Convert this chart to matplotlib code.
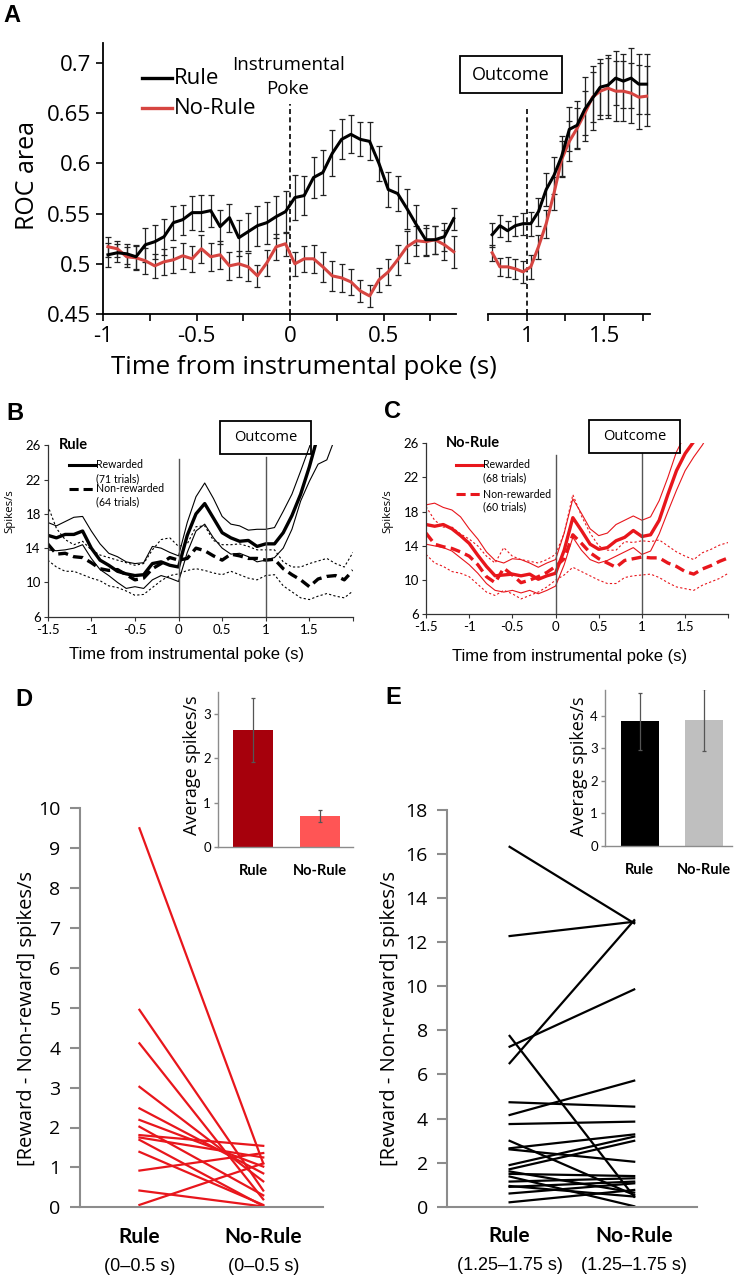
import numpy as np
import matplotlib
matplotlib.use("Agg")
import matplotlib.pyplot as plt
from matplotlib.patches import Rectangle
from matplotlib.lines import Line2D
from matplotlib.transforms import blended_transform_factory

plt.rcParams['font.family'] = ['Open Sans', 'DejaVu Sans']
plt.rcParams['axes.unicode_minus'] = False

nan = np.nan

# ---------------- Panel A: ROC area ----------------
t_a_left = np.round(np.arange(-0.975, 0.9, 0.05), 3)
rule_a = [0.509, 0.511, 0.510, 0.507, 0.519, 0.522, 0.527, 0.541, 0.544, 0.551,
          0.551, 0.553, 0.537, 0.546, 0.526, 0.532, 0.538, 0.541, 0.547, 0.552,
          0.566, 0.568, 0.586, 0.591, 0.610, 0.624, 0.629, 0.624, 0.622, 0.600,
          0.574, 0.570, 0.555, 0.539, 0.524, 0.524, 0.527, 0.545]
rule_a_err = [0.012, 0.009, 0.010, 0.012, 0.017, 0.017, 0.018, 0.017, 0.015, 0.017,
              0.018, 0.016, 0.017, 0.014, 0.018, 0.019, 0.020, 0.021, 0.021, 0.021,
              0.022, 0.019, 0.020, 0.022, 0.023, 0.020, 0.019, 0.017, 0.019, 0.017,
              0.017, 0.017, 0.020, 0.020, 0.015, 0.014, 0.014, 0.011]
norule_a = [0.517, 0.515, 0.507, 0.506, 0.503, 0.498, 0.502, 0.504, 0.508, 0.505,
            0.515, 0.507, 0.509, 0.498, 0.500, 0.497, 0.488, 0.501, 0.517, 0.520,
            0.500, 0.505, 0.505, 0.497, 0.488, 0.486, 0.482, 0.473, 0.468, 0.484,
            0.492, 0.504, 0.517, 0.523, 0.522, 0.524, 0.519, 0.512]
norule_a_err = [0.010, 0.008, 0.010, 0.012, 0.013, 0.012, 0.013, 0.013, 0.013, 0.013,
                0.014, 0.014, 0.014, 0.014, 0.013, 0.014, 0.011, 0.013, 0.013, 0.012,
                0.012, 0.013, 0.014, 0.015, 0.015, 0.014, 0.013, 0.011, 0.011, 0.012,
                0.013, 0.015, 0.016, 0.015, 0.014, 0.014, 0.015, 0.016]

t_a_right = np.round(np.arange(0.775, 1.8, 0.05), 3)
rule_a2 = [0.529, 0.538, 0.533, 0.538, 0.540, 0.540, 0.552, 0.574, 0.588, 0.607,
           0.634, 0.638, 0.654, 0.665, 0.676, 0.678, 0.685, 0.682, 0.685, 0.679, 0.679]
rule_a2_err = [0.012, 0.011, 0.010, 0.010, 0.011, 0.012, 0.014, 0.016, 0.018, 0.020,
               0.022, 0.024, 0.032, 0.032, 0.028, 0.030, 0.027, 0.027, 0.030, 0.030, 0.030]
norule_a2 = [0.511, 0.497, 0.497, 0.495, 0.492, 0.497, 0.517, 0.540, 0.570, 0.604,
             0.622, 0.635, 0.650, 0.666, 0.672, 0.675, 0.672, 0.672, 0.670, 0.666, 0.667]
norule_a2_err = [0.008, 0.009, 0.010, 0.010, 0.011, 0.012, 0.012, 0.014, 0.016, 0.018,
                 0.020, 0.020, 0.022, 0.025, 0.028, 0.030, 0.030, 0.030, 0.030, 0.032, 0.030]

# ---------------- Panels B, C: firing rate ----------------
t_bc = np.round(np.arange(-1.5, 2.05, 0.1), 2)
b_rw_mean = [15.5, 15.2, 15.6, 15.6, 16.0, 14.0, 12.6, 12.0, 11.3, 11.0,
             10.8, 10.9, 12.2, 12.4, 12.0, 11.8, 15.5, 18.0, 19.2, 17.5,
             15.8, 15.2, 14.8, 14.9, 14.2, 14.5, 14.5, 15.8, 17.8, 20.3,
             23.5, 27.2, nan, nan, nan, nan]
b_rw_hi = [17.0, 16.6, 17.1, 17.6, 17.7, 16.0, 14.5, 13.4, 13.0, 12.4,
           12.2, 12.3, 14.2, 14.0, 13.5, 13.1, 17.0, 20.0, 21.6, 19.8,
           17.7, 16.8, 16.6, 16.1, 16.2, 16.2, 16.4, 18.3, 20.3, 23.0,
           25.8, 29.0, nan, nan, nan, nan]
b_rw_lo = [13.8, 13.7, 13.8, 14.0, 14.4, 12.8, 11.5, 10.8, 10.0, 9.3,
           9.5, 9.3, 10.3, 10.8, 10.5, 10.1, 13.5, 16.0, 16.8, 15.2,
           14.0, 13.3, 13.4, 13.0, 12.4, 12.6, 12.9, 14.0, 16.2, 19.5,
           21.8, 23.8, 24.3, 27.0, nan, nan]
b_nr_mean = [14.5, 13.3, 13.4, 13.0, 12.9, 12.3, 11.6, 11.4, 11.5, 10.9,
             10.3, 10.5, 11.6, 12.2, 12.9, 12.6, 12.8, 14.0, 13.7, 13.1,
             12.6, 13.3, 13.1, 12.8, 12.8, 12.6, 12.7, 11.6, 10.9, 10.3,
             9.5, 10.4, 10.7, 10.8, 10.3, 11.4]
b_nr_hi = [19.0, 16.3, 15.0, 14.4, 14.8, 13.8, 13.2, 12.9, 12.6, 12.3,
           12.0, 12.2, 13.8, 15.0, 15.2, 14.2, 14.5, 16.5, 16.6, 14.9,
           14.4, 14.4, 14.5, 14.2, 13.8, 13.8, 13.8, 12.4, 11.8, 11.8,
           12.2, 12.5, 12.8, 12.2, 11.8, 13.5]
b_nr_lo = [12.6, 11.8, 11.3, 11.3, 10.9, 10.5, 10.2, 9.6, 9.4, 9.0,
           8.5, 8.6, 9.4, 10.2, 10.8, 11.0, 11.4, 11.6, 11.4, 11.1,
           10.9, 11.3, 10.9, 10.5, 10.3, 10.8, 10.9, 9.6, 8.9, 8.2,
           8.0, 8.4, 8.7, 8.4, 8.2, 9.0]

c_rw_mean = [16.5, 16.3, 16.5, 16.0, 15.2, 14.3, 12.9, 11.6, 10.5, 10.6,
             10.7, 10.5, 10.7, 10.1, 10.5, 10.8, 13.5, 17.3, 15.8, 14.2,
             13.6, 13.8, 14.6, 15.0, 15.8, 15.1, 15.3, 17.0, 20.0, 22.8,
             24.8, 26.2, nan, nan, nan, nan]
c_rw_hi = [18.8, 19.0, 18.5, 18.2, 17.4, 16.0, 14.8, 13.3, 12.3, 12.0,
           12.5, 12.4, 12.0, 11.5, 12.0, 12.4, 15.5, 19.5, 17.8, 16.0,
           15.2, 15.5, 16.5, 17.0, 17.5, 17.0, 17.4, 19.3, 22.0, 25.0,
           27.0, nan, nan, nan, nan, nan]
c_rw_lo = [14.2, 14.0, 13.8, 13.4, 12.6, 11.8, 10.8, 9.6, 8.8, 8.6,
           8.8, 8.5, 8.8, 8.4, 8.8, 9.3, 11.8, 15.0, 13.5, 12.4,
           12.0, 12.3, 12.8, 13.3, 13.8, 13.0, 13.4, 15.4, 18.0, 20.5,
           22.8, 24.4, 25.8, 27.5, nan, nan]
c_nr_mean = [15.5, 14.2, 13.9, 13.7, 13.3, 12.8, 11.8, 10.4, 9.7, 11.4,
             10.6, 9.7, 10.0, 10.4, 10.9, 11.6, 12.5, 15.3, 14.3, 13.2,
             12.5, 12.0, 11.5, 12.3, 12.5, 12.7, 12.6, 12.6, 12.0, 11.6,
             11.0, 10.7, 11.3, 11.7, 12.2, 12.6]
c_nr_hi = [18.6, 17.0, 16.2, 16.2, 15.4, 14.8, 14.0, 12.8, 12.0, 13.8,
           12.8, 12.4, 12.2, 12.0, 12.4, 13.0, 15.5, 20.0, 17.5, 15.5,
           14.0, 13.5, 13.5, 14.5, 14.4, 14.6, 14.5, 14.7, 14.0, 13.3,
           12.8, 12.4, 13.2, 13.6, 14.1, 14.4]
c_nr_lo = [13.0, 12.0, 11.6, 11.0, 10.8, 10.4, 9.5, 8.6, 8.2, 8.8,
           8.4, 7.8, 8.2, 8.6, 9.2, 10.0, 10.6, 11.5, 11.0, 10.5,
           10.0, 9.6, 9.6, 10.3, 10.5, 10.6, 10.7, 10.3, 9.7, 9.2,
           9.0, 8.8, 9.4, 9.8, 10.2, 10.8]

# ---------------- Panels D, E: paired differences ----------------
d_rule = [9.5, 4.95, 4.11, 3.02, 2.48, 2.19, 2.02, 1.81, 1.75, 1.69, 1.39, 0.92, 0.42, 0.06]
d_norule = [1.1, 0.42, 0.2, 0.65, 0.85, 1.02, 0.3, 1.54, 1.25, 0.03, 0.06, 1.36, 0.02, 1.1]
d_bar = [2.64, 0.71]
d_bar_err = [0.72, 0.14]

e_rule = [16.33, 12.28, 6.51, 7.26, 7.75, 4.74, 4.16, 3.75, 2.99, 2.65, 2.6,
          1.89, 1.7, 1.6, 1.49, 1.37, 1.14, 0.94, 0.9, 0.6, 0.2]
e_norule = [12.86, 12.93, 13.0, 9.86, 0.45, 4.54, 5.72, 3.86, 0.53, 3.28, 2.04,
            3.18, 2.99, 0.64, 1.39, 0.02, 1.29, 0.46, 1.14, 1.06, 0.76]
e_bar = [3.83, 3.88]
e_bar_err = [0.89, 0.96]

groups = ['Rule', 'No-Rule']

# ---------------- layout helpers (pixel coords of the 739x1280 canvas) ----------------
W, H = 739, 1280


def rect(x0, y0, x1, y1):
    return [x0 / W, 1 - y1 / H, (x1 - x0) / W, (y1 - y0) / H]


def fx(x):
    return x / W


def fy(y):
    return 1 - y / H


fig = plt.figure(figsize=(W / 100, H / 100), dpi=100)

RED_A = '#D64541'
RED = '#E8161C'
GRAY = '#8C8C8C'

# ===== A =====
axL = fig.add_axes(rect(103.3, 43, 456.5, 314))
axR = fig.add_axes(rect(488.3, 43, 650.4, 314))
for ax, t, r, re, n, ne in [(axL, t_a_left, rule_a, rule_a_err, norule_a, norule_a_err),
                            (axR, t_a_right, rule_a2, rule_a2_err, norule_a2, norule_a2_err)]:
    ax.errorbar(t, n, yerr=ne, fmt='none', ecolor='#222222', elinewidth=0.9,
                capsize=2.5, capthick=0.9, zorder=2)
    ax.errorbar(t, r, yerr=re, fmt='none', ecolor='#222222', elinewidth=0.9,
                capsize=2.5, capthick=0.9, zorder=2)
    ax.plot(t, n, color=RED_A, lw=2.2, zorder=3)
    ax.plot(t, r, color='black', lw=2.2, zorder=4)
    ax.set_ylim(0.45, 0.72)
    for s in ['top', 'right']:
        ax.spines[s].set_visible(False)
    ax.spines['bottom'].set_linewidth(1.3)
    ax.spines['left'].set_linewidth(1.3)
    ax.tick_params(direction='out', length=5, width=1.2, labelsize=16, pad=4)

axL.set_xlim(-1, 0.89)
axL.set_xticks([-1, -0.75, -0.5, -0.25, 0, 0.25, 0.5, 0.75])
axL.set_xticklabels(['-1', '', '-0.5', '', '0', '', '0.5', ''])
axL.set_yticks([0.45, 0.5, 0.55, 0.6, 0.65, 0.7])
axL.set_yticklabels(['0.45', '0.5', '0.55', '0.6', '0.65', '0.7'])
axL.plot([0, 0], [0.45, 0.659], color='black', lw=1.2, ls=(0, (3, 2)), zorder=1)

axR.set_xlim(0.75, 1.8)
axR.set_xticks([0.75, 1, 1.25, 1.5, 1.75])
axR.set_xticklabels(['', '1', '', '1.5', ''])
axR.spines['left'].set_visible(False)
axR.set_yticks([])
axR.plot([1, 1], [0.45, 0.657], color='black', lw=1.2, ls=(0, (3, 2)), zorder=1)

fig.text(fx(288), fy(65), 'Instrumental', ha='center', va='center', fontsize=13.5)
fig.text(fx(288), fy(89), 'Poke', ha='center', va='center', fontsize=13.5)
fig.add_artist(Line2D([fx(142), fx(172)], [fy(78), fy(78)], color='black', lw=2.4,
                      transform=fig.transFigure))
fig.text(fx(174), fy(78), 'Rule', ha='left', va='center', fontsize=16)
fig.add_artist(Line2D([fx(142), fx(172)], [fy(108), fy(108)], color=RED_A, lw=2.4,
                      transform=fig.transFigure))
fig.text(fx(174), fy(108), 'No-Rule', ha='left', va='center', fontsize=16)
fig.add_artist(Rectangle((fx(460), fy(93)), (562 - 460) / W, (93 - 56) / H, fill=False,
                         lw=1.3, ec='black', transform=fig.transFigure))
fig.text(fx(511), fy(75), 'Outcome', ha='center', va='center', fontsize=13)
fig.text(fx(27), fy(176), 'ROC area', rotation=90, ha='center', va='center', fontsize=18)
fig.text(fx(304), fy(367), 'Time from instrumental poke (s)', ha='center', va='center',
         fontsize=18.5)


# ===== B, C =====
def rate_panel(box, color, rw_mean, rw_hi, rw_lo, nr_mean, nr_hi, nr_lo, top0, top1):
    ax = fig.add_axes(rect(*box))
    ax.plot(t_bc, nr_hi, color=color, lw=0.8, ls=(0, (2, 2)))
    ax.plot(t_bc, nr_lo, color=color, lw=0.8, ls=(0, (2, 2)))
    ax.plot(t_bc, nr_mean, color=color, lw=2.4, ls=(0, (3, 1.6)))
    ax.plot(t_bc, rw_hi, color=color, lw=0.8)
    ax.plot(t_bc, rw_lo, color=color, lw=0.8)
    ax.plot(t_bc, rw_mean, color=color, lw=2.4)
    ax.plot([0, 0], [6, top0], color='#555555', lw=1)
    ax.plot([1, 1], [6, top1], color='#555555', lw=1)
    ax.set_xlim(-1.5, 2.0)
    ax.set_ylim(6, 26)
    ax.set_yticks([6, 10, 14, 18, 22, 26])
    ax.set_xticks([-1.5, -1, -0.5, 0, 0.5, 1, 1.5, 2])
    ax.set_xticklabels(['-1.5', '-1', '-0.5', '0', '0.5', '1', '1.5', ''])
    for s in ['top', 'right']:
        ax.spines[s].set_visible(False)
    for s in ['left', 'bottom']:
        ax.spines[s].set_linewidth(0.9)
        ax.spines[s].set_color('#333333')
    ax.tick_params(direction='out', length=3, width=0.8, labelsize=9.5, pad=2,
                   color='#333333')
    for lab in ax.get_xticklabels() + ax.get_yticklabels():
        lab.set_family(['Lato', 'DejaVu Sans'])
    return ax


axB = rate_panel((47.7, 445.3, 353, 616.7), 'black', b_rw_mean, b_rw_hi, b_rw_lo,
                 b_nr_mean, b_nr_hi, b_nr_lo, 24.4, 24.6)
axC = rate_panel((426, 443.3, 728.3, 614.3), RED, c_rw_mean, c_rw_hi, c_rw_lo,
                 c_nr_mean, c_nr_hi, c_nr_lo, 24.6, 24.9)

for x0, lx, col, name, n1, n2, ys in [
        (0, 59, 'black', 'Rule', '(71 trials)', '(64 trials)', (445, 465, 479, 489, 502)),
        (370, 446, RED, 'No-Rule', '(68 trials)', '(60 trials)', (443, 465, 478, 494, 507))]:
    fig.text(fx(lx), fy(ys[0]), name, ha='left', va='center', fontsize=10.5,
             fontweight='bold', family=['Lato', 'DejaVu Sans'])
    lx0 = lx + 10
    fig.add_artist(Line2D([fx(lx0), fx(lx0 + 26)], [fy(ys[1]), fy(ys[1])], color=col,
                          lw=2.2, transform=fig.transFigure))
    fig.add_artist(Line2D([fx(lx0), fx(lx0 + 26)], [fy(ys[3]), fy(ys[3])], color=col,
                          lw=2.2, ls=(0, (3, 1.6)), transform=fig.transFigure))
    for txt, yy in [('Rewarded', ys[1]), (n1, ys[2]), ('Non-rewarded', ys[3]), (n2, ys[4])]:
        fig.text(fx(lx0 + 27), fy(yy), txt, ha='left', va='center', fontsize=7.6,
                 family=['Lato', 'DejaVu Sans'])

for bx0, bx1, by0, by1 in [(220, 311, 420.7, 454), (589, 680, 420, 452.7)]:
    fig.add_artist(Rectangle((fx(bx0), fy(by1)), (bx1 - bx0) / W, (by1 - by0) / H,
                             fill=False, lw=1.3, ec='black', transform=fig.transFigure))
    fig.text(fx((bx0 + bx1) / 2), fy((by0 + by1) / 2), 'Outcome', ha='center',
             va='center', fontsize=10.5)

fig.text(fx(10), fy(511), 'Spikes/s', rotation=90, ha='center', va='center', fontsize=8.2)
fig.text(fx(388), fy(511), 'Spikes/s', rotation=90, ha='center', va='center', fontsize=8.2)
fig.text(fx(187), fy(654), 'Time from instrumental poke (s)', ha='center', va='center',
         fontsize=12, family=['Liberation Sans', 'DejaVu Sans'])
fig.text(fx(570), fy(656), 'Time from instrumental poke (s)', ha='center', va='center',
         fontsize=12, family=['Liberation Sans', 'DejaVu Sans'])


# ===== D, E =====
def paired_panel(box, xlim, ylim, yticks, rule, norule, color, window):
    ax = fig.add_axes(rect(*box))
    for r, n in zip(rule, norule):
        ax.plot([1, 2], [r, n], color=color, lw=1.6)
    ax.set_xlim(*xlim)
    ax.set_ylim(*ylim)
    ax.set_yticks(yticks)
    ax.set_xticks([])
    for s in ['top', 'right']:
        ax.spines[s].set_visible(False)
    for s in ['left', 'bottom']:
        ax.spines[s].set_linewidth(1.5)
        ax.spines[s].set_color(GRAY)
    ax.tick_params(axis='y', direction='out', length=7, width=1.5, color=GRAY,
                   labelsize=14, pad=7)
    tr = blended_transform_factory(ax.transData, ax.transAxes)
    for i, g in enumerate(groups):
        ax.text(i + 1, -0.075, g, transform=tr, ha='center', va='center', fontsize=15,
                fontweight='bold', family=['Lato', 'DejaVu Sans'])
        ax.text(i + 1, -0.148, window, transform=tr, ha='center', va='center',
                fontsize=13, family=['Liberation Sans', 'DejaVu Sans'])
    return ax


def inset_bars(box, xlim, ylim, yticks, vals, errs, colors):
    ax = fig.add_axes(rect(*box))
    ax.bar([0, 1], vals, width=0.59, color=colors, yerr=errs,
           error_kw=dict(ecolor='#555555', elinewidth=0.9, capsize=1.5, capthick=0.9))
    ax.set_xlim(*xlim)
    ax.set_ylim(*ylim)
    ax.set_yticks(yticks)
    ax.set_xticks([])
    for s in ['top', 'right']:
        ax.spines[s].set_visible(False)
    for s in ['left', 'bottom']:
        ax.spines[s].set_linewidth(1)
        ax.spines[s].set_color(GRAY)
    ax.tick_params(axis='y', direction='out', length=3, width=1, color=GRAY,
                   labelsize=9.5, pad=2)
    for lab in ax.get_yticklabels():
        lab.set_family(['Lato', 'DejaVu Sans'])
    tr = blended_transform_factory(ax.transData, ax.transAxes)
    for i, g in enumerate(groups):
        ax.text(i, -0.155, g, transform=tr, ha='center', va='center', fontsize=10.5,
                fontweight='bold', family=['Lato', 'DejaVu Sans'])
    return ax


axD = paired_panel((80, 808.3, 322.7, 1207.3), (0.52, 2.48), (0, 10), range(0, 11),
                   d_rule, d_norule, RED, '(0\u20130.5 s)')
axE = paired_panel((447.3, 810, 696.5, 1206.7), (0.5, 2.5), (0, 18), range(0, 19, 2),
                   e_rule, e_norule, 'black', '(1.25\u20131.75 s)')
inset_bars((217.7, 691.7, 352.7, 847.3), (-0.53, 1.49), (0, 3.5), [0, 1, 2, 3],
           d_bar, d_bar_err, ['#A6000C', '#FF5555'])
inset_bars((605, 690, 731.7, 845.7), (-0.54, 1.435), (0, 4.8), [0, 1, 2, 3, 4],
           e_bar, e_bar_err, ['#000000', '#BFBFBF'])

fig.text(fx(27), fy(1018), '[Reward - Non-reward] spikes/s', rotation=90, ha='center',
         va='center', fontsize=14.5)
fig.text(fx(390), fy(1018), '[Reward - Non-reward] spikes/s', rotation=90, ha='center',
         va='center', fontsize=14.5)
fig.text(fx(192), fy(765), 'Average spikes/s', rotation=90, ha='center', va='center',
         fontsize=13)
fig.text(fx(579), fy(766), 'Average spikes/s', rotation=90, ha='center', va='center',
         fontsize=13)

# panel letters
for letter, x, y in [('A', 12, 15), ('B', 15, 413), ('C', 392, 412), ('D', 24, 699),
                     ('E', 393, 697)]:
    fig.text(fx(x), fy(y), letter, ha='center', va='center', fontsize=17,
             fontweight='bold', family=['Liberation Sans', 'DejaVu Sans'])

fig.savefig('out.png', dpi=100)
